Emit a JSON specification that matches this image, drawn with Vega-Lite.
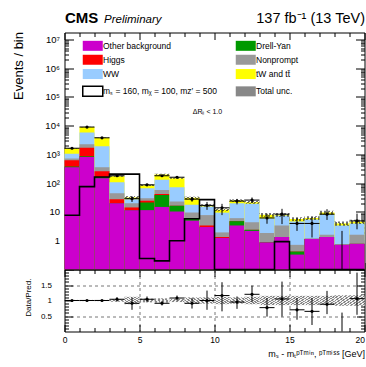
{
  "$schema": "https://vega.github.io/schema/vega-lite/v6.json",
  "autosize": {"type": "pad"},
  "padding": {"left": 11.5, "top": 9.5, "right": 0, "bottom": 8},
  "background": "white",
  "bounds": "flush",
  "spacing": 0,
  "config": {
    "font": "Liberation Sans",
    "view": {"stroke": "black", "strokeWidth": 1},
    "axis": {"domain": false, "grid": false, "tickColor": "black", "tickWidth": 1, "labelColor": "black", "titleColor": "black", "titleFontWeight": "normal", "labelFlush": false, "labelOverlap": false, "labelBound": false}
  },
  "datasets": {
    "bins": [
      {"x0": 0, "x1": 1, "xc": 0.5, "other": 360, "dy": 380, "higgs": 630, "np": 720, "ww": 1070, "top": 1650, "ulo": 1617, "uhi": 1683, "d": 1650, "dlo": 1610, "dhi": 1690, "r": 1.0, "rlo": 0.98, "rhi": 1.02, "rulo": 0.98, "ruhi": 1.02},
      {"x0": 1, "x1": 2, "xc": 1.5, "other": 820, "dy": 870, "higgs": 1700, "np": 2250, "ww": 5800, "top": 9000, "ulo": 8820, "uhi": 9180, "d": 9000, "dlo": 8905, "dhi": 9095, "r": 1.0, "rlo": 0.99, "rhi": 1.01, "rulo": 0.98, "ruhi": 1.02},
      {"x0": 2, "x1": 3, "xc": 2.5, "other": 150, "dy": 165, "higgs": 260, "np": 360, "ww": 1950, "top": 3800, "ulo": 3724, "uhi": 3876, "d": 3800, "dlo": 3738, "dhi": 3862, "r": 1.0, "rlo": 0.98, "rhi": 1.02, "rulo": 0.98, "ruhi": 1.02},
      {"x0": 3, "x1": 4, "xc": 3.5, "other": 20, "dy": 20, "higgs": 28, "np": 45, "ww": 108, "top": 175, "ulo": 168, "uhi": 182, "d": 182, "dlo": 170, "dhi": 194, "r": 1.04, "rlo": 0.97, "rhi": 1.11, "rulo": 0.96, "ruhi": 1.04},
      {"x0": 4, "x1": 5, "xc": 4.5, "other": 11.5, "dy": 11.5, "higgs": 14.4, "np": 20, "ww": 28, "top": 32, "ulo": 28.2, "uhi": 35.8, "d": 29, "dlo": 22.3, "dhi": 35, "r": 0.91, "rlo": 0.70, "rhi": 1.10, "rulo": 0.88, "ruhi": 1.12},
      {"x0": 5, "x1": 6, "xc": 5.5, "other": 11.6, "dy": 21.5, "higgs": 24.7, "np": 30, "ww": 67, "top": 85, "ulo": 80, "uhi": 90, "d": 88, "dlo": 80, "dhi": 96, "r": 1.04, "rlo": 0.95, "rhi": 1.13, "rulo": 0.94, "ruhi": 1.06},
      {"x0": 6, "x1": 7, "xc": 6.5, "other": 15, "dy": 39, "higgs": 42, "np": 58, "ww": 131, "top": 200, "ulo": 186, "uhi": 214, "d": 182, "dlo": 168, "dhi": 196, "r": 0.91, "rlo": 0.84, "rhi": 0.98, "rulo": 0.93, "ruhi": 1.07},
      {"x0": 7, "x1": 8, "xc": 7.5, "other": 10.4, "dy": 16.5, "higgs": 16.5, "np": 23, "ww": 72, "top": 150, "ulo": 142.5, "uhi": 157.5, "d": 162, "dlo": 150, "dhi": 174, "r": 1.08, "rlo": 1.0, "rhi": 1.16, "rulo": 0.95, "ruhi": 1.05},
      {"x0": 8, "x1": 9, "xc": 8.5, "other": 5.0, "dy": 6.1, "higgs": 6.1, "np": 9.6, "ww": 18, "top": 31, "ulo": 27.9, "uhi": 34.1, "d": 28, "dlo": 22.8, "dhi": 33.2, "r": 0.91, "rlo": 0.74, "rhi": 1.08, "rulo": 0.9, "ruhi": 1.1},
      {"x0": 9, "x1": 10, "xc": 9.5, "other": 3.0, "dy": 3.0, "higgs": 3.4, "np": 7.8, "ww": 15.5, "top": 17, "ulo": 15.3, "uhi": 18.7, "d": 17, "dlo": 11.9, "dhi": 22.4, "r": 1.0, "rlo": 0.70, "rhi": 1.32, "rulo": 0.9, "ruhi": 1.1},
      {"x0": 10, "x1": 11, "xc": 10.5, "other": 1.25, "dy": 1.25, "higgs": 1.35, "np": 1.95, "ww": 9.5, "top": 12, "ulo": 10.6, "uhi": 13.4, "d": 14, "dlo": 7.8, "dhi": 19.2, "r": 1.16, "rlo": 0.65, "rhi": 1.59, "rulo": 0.88, "ruhi": 1.12},
      {"x0": 11, "x1": 12, "xc": 11.5, "other": 3.4, "dy": 4.8, "higgs": 4.8, "np": 6.1, "ww": 20, "top": 25, "ulo": 22.5, "uhi": 27.5, "d": 24, "dlo": 18.4, "dhi": 28.5, "r": 0.95, "rlo": 0.73, "rhi": 1.13, "rulo": 0.9, "ruhi": 1.1},
      {"x0": 12, "x1": 13, "xc": 12.5, "other": 2.2, "dy": 2.4, "higgs": 2.4, "np": 4.4, "ww": 19.4, "top": 22, "ulo": 19.4, "uhi": 24.6, "d": 26, "dlo": 20.6, "dhi": 32, "r": 1.2, "rlo": 0.95, "rhi": 1.48, "rulo": 0.88, "ruhi": 1.12},
      {"x0": 13, "x1": 14, "xc": 13.5, "other": 0.87, "dy": 0.87, "higgs": 0.87, "np": 1.86, "ww": 6.0, "top": 8.0, "ulo": 6.8, "uhi": 9.2, "d": 6.2, "dlo": 3.9, "dhi": 8.7, "r": 0.77, "rlo": 0.48, "rhi": 1.08, "rulo": 0.85, "ruhi": 1.15},
      {"x0": 14, "x1": 15, "xc": 14.5, "other": 1.35, "dy": 1.35, "higgs": 1.35, "np": 3.4, "ww": 7.5, "top": 8.0, "ulo": 6.8, "uhi": 9.2, "d": 8.4, "dlo": 3.8, "dhi": 12.9, "r": 1.05, "rlo": 0.48, "rhi": 1.61, "rulo": 0.85, "ruhi": 1.15},
      {"x0": 15, "x1": 16, "xc": 15.5, "other": 0.33, "dy": 0.42, "higgs": 0.42, "np": 0.72, "ww": 4.7, "top": 5.7, "ulo": 4.85, "uhi": 6.55, "d": 4.0, "dlo": 2.2, "dhi": 6.2, "r": 0.70, "rlo": 0.38, "rhi": 1.08, "rulo": 0.85, "ruhi": 1.15},
      {"x0": 16, "x1": 17, "xc": 16.5, "other": 1.15, "dy": 1.15, "higgs": 1.15, "np": 1.22, "ww": 5.5, "top": 6.2, "ulo": 5.27, "uhi": 7.13, "d": 4.0, "dlo": 1.3, "dhi": 6.6, "r": 0.65, "rlo": 0.21, "rhi": 1.08, "rulo": 0.85, "ruhi": 1.15},
      {"x0": 17, "x1": 18, "xc": 17.5, "other": 1.35, "dy": 1.35, "higgs": 1.35, "np": 1.62, "ww": 8.2, "top": 9.6, "ulo": 8.16, "uhi": 11.04, "d": 8.4, "dlo": 5.3, "dhi": 12.5, "r": 0.88, "rlo": 0.56, "rhi": 1.31, "rulo": 0.85, "ruhi": 1.15},
      {"x0": 18, "x1": 19, "xc": 18.5, "other": 0.72, "dy": 0.72, "higgs": 0.72, "np": 0.75, "ww": 3.4, "top": 4.0, "ulo": 3.32, "uhi": 4.68, "d": null, "dlo": 0.01, "dhi": 2.2, "r": null, "rlo": 0, "rhi": 0.61, "rulo": 0.83, "ruhi": 1.17},
      {"x0": 19, "x1": 20, "xc": 19.5, "other": 0.78, "dy": 0.78, "higgs": 0.78, "np": 1.62, "ww": 4.0, "top": 4.6, "ulo": 3.82, "uhi": 5.38, "d": 4.9, "dlo": 2.5, "dhi": 8.8, "r": 1.06, "rlo": 0.54, "rhi": 1.9, "rulo": 0.83, "ruhi": 1.17}
    ],
    "sig": [
      {"x": 0, "s": 7.7}, {"x": 1, "s": 76}, {"x": 2, "s": 165}, {"x": 3, "s": 207}, {"x": 4, "s": 207},
      {"x": 5, "s": 0.24}, {"x": 6, "s": 0.2}, {"x": 7, "s": 1.0}, {"x": 8, "s": 5.8}, {"x": 9, "s": 27},
      {"x": 10, "s": 0.01}, {"x": 11, "s": 0.01}, {"x": 12, "s": 0.01}, {"x": 13, "s": 0.01}, {"x": 14, "s": 0.93},
      {"x": 15, "s": 0.01}, {"x": 16, "s": 0.01}, {"x": 17, "s": 0.01}, {"x": 18, "s": 0.01}, {"x": 19, "s": 0.01}, {"x": 20, "s": 0.01}
    ]
  },
  "vconcat": [
    {
      "width": 300,
      "height": 237,
      "resolve": {"axis": {"x": "independent", "y": "independent"}},
      "layer": [
        {
          "data": {"name": "bins"},
          "transform": [{"fold": ["top", "ww", "np", "higgs", "dy", "other"], "as": ["proc", "cum"]}],
          "mark": {"type": "bar"},
          "encoding": {
            "x": {"field": "x0", "type": "quantitative", "scale": {"domain": [0, 20], "nice": false, "zero": false},
              "axis": {"values": [0,1,2,3,4,5,6,7,8,9,10,11,12,13,14,15,16,17,18,19,20], "labels": false,
                "tickSize": {"condition": {"test": "datum.value % 5 == 0", "value": -7}, "value": -4},
                "title": "Preliminary", "titleX": 39, "titleY": -247.5, "titleAlign": "left", "titleBaseline": "alphabetic", "titleAngle": 0, "titleFontSize": 11.5, "titleFontStyle": "italic"}},
            "x2": {"field": "x1"},
            "y": {"field": "cum", "type": "quantitative", "scale": {"type": "log", "domain": [0.1, 17500000], "nice": false, "clamp": true},
              "axis": {"values": [0.1,0.2,0.3,0.4,0.5,0.6,0.7,0.8,0.9,1,2,3,4,5,6,7,8,9,10,20,30,40,50,60,70,80,90,100,200,300,400,500,600,700,800,900,1000,2000,3000,4000,5000,6000,7000,8000,9000,10000,20000,30000,40000,50000,60000,70000,80000,90000,100000,200000,300000,400000,500000,600000,700000,800000,900000,1000000,2000000,3000000,4000000,5000000,6000000,7000000,8000000,9000000,10000000],
                "labelExpr": "datum.value==1?'1':datum.value==10?'10':datum.value==100?'10²':datum.value==1000?'10³':datum.value==10000?'10⁴':datum.value==100000?'10⁵':datum.value==1000000?'10⁶':datum.value==10000000?'10⁷':''",
                "tickSize": {"condition": {"test": "indexof([0.1,1,10,100,1000,10000,100000,1000000,10000000], datum.value) >= 0", "value": -9}, "value": -4},
                "labelPadding": 14, "labelFontSize": 9.5,
                "title": "Events / bin", "titleFontSize": 13, "titleAngle": 270, "titleX": -46, "titleY": -1, "titleAlign": "right", "titleBaseline": "middle"}},
            "y2": {"datum": 0.1},
            "color": {"field": "proc", "type": "nominal",
              "scale": {"domain": ["other", "dy", "higgs", "np", "ww", "top", "sig", "unc"], "range": ["#cc00cc", "#009900", "#ff0000", "#999999", "#99ccff", "#ffff00", "#ffffff", "#888888"]},
              "legend": {"orient": "none", "legendX": 24, "legendY": 8.7, "columns": 2, "direction": "horizontal", "title": null, "padding": 0,
                "symbolType": "M-1,-0.5H1V0.5H-1Z", "symbolSize": 400, "symbolStrokeWidth": 0,
                "labelFontSize": 8.5, "labelOffset": 6, "labelLimit": 250, "rowPadding": 3.3, "columnPadding": 18,
                "labelExpr": "datum.label=='other'?'Other background':datum.label=='dy'?'Drell-Yan':datum.label=='higgs'?'Higgs':datum.label=='np'?'Nonprompt':datum.label=='ww'?'WW':datum.label=='top'?'tW and tt̄':datum.label=='sig'?'mₛ = 160, mᵪ = 100, mᴢ′ = 500':'Total unc.'",
                "encode": {"symbols": {"update": {
                  "fill": [
                    {"test": "datum.value === 'unc'", "value": {"gradient": "linear", "x1": 0, "y1": 0, "x2": 1, "y2": 1, "stops": [
                      {"offset": 0, "color": "#555555"}, {"offset": 0.0625, "color": "#555555"}, {"offset": 0.0625, "color": "#dddddd"}, {"offset": 0.125, "color": "#dddddd"},
                      {"offset": 0.125, "color": "#555555"}, {"offset": 0.1875, "color": "#555555"}, {"offset": 0.1875, "color": "#dddddd"}, {"offset": 0.25, "color": "#dddddd"},
                      {"offset": 0.25, "color": "#555555"}, {"offset": 0.3125, "color": "#555555"}, {"offset": 0.3125, "color": "#dddddd"}, {"offset": 0.375, "color": "#dddddd"},
                      {"offset": 0.375, "color": "#555555"}, {"offset": 0.4375, "color": "#555555"}, {"offset": 0.4375, "color": "#dddddd"}, {"offset": 0.5, "color": "#dddddd"},
                      {"offset": 0.5, "color": "#555555"}, {"offset": 0.5625, "color": "#555555"}, {"offset": 0.5625, "color": "#dddddd"}, {"offset": 0.625, "color": "#dddddd"},
                      {"offset": 0.625, "color": "#555555"}, {"offset": 0.6875, "color": "#555555"}, {"offset": 0.6875, "color": "#dddddd"}, {"offset": 0.75, "color": "#dddddd"},
                      {"offset": 0.75, "color": "#555555"}, {"offset": 0.8125, "color": "#555555"}, {"offset": 0.8125, "color": "#dddddd"}, {"offset": 0.875, "color": "#dddddd"},
                      {"offset": 0.875, "color": "#555555"}, {"offset": 0.9375, "color": "#555555"}, {"offset": 0.9375, "color": "#dddddd"}, {"offset": 1, "color": "#dddddd"}]}},
                    {"scale": "color", "field": "value"}
                  ],
                  "stroke": {"value": "black"},
                  "strokeWidth": {"signal": "datum.value === 'sig' ? 1.5 : 0"},
                  "opacity": {"value": 1}
                }}}}}
          }
        },
        {
          "data": {"name": "bins"},
          "mark": {"type": "rect", "fill": {"gradient": "linear", "x1": 0, "y1": 0, "x2": 1, "y2": 1, "stops": [
            {"offset": 0, "color": "#333333"}, {"offset": 0.0625, "color": "#333333"}, {"offset": 0.0625, "color": "transparent"}, {"offset": 0.125, "color": "transparent"},
            {"offset": 0.125, "color": "#333333"}, {"offset": 0.1875, "color": "#333333"}, {"offset": 0.1875, "color": "transparent"}, {"offset": 0.25, "color": "transparent"},
            {"offset": 0.25, "color": "#333333"}, {"offset": 0.3125, "color": "#333333"}, {"offset": 0.3125, "color": "transparent"}, {"offset": 0.375, "color": "transparent"},
            {"offset": 0.375, "color": "#333333"}, {"offset": 0.4375, "color": "#333333"}, {"offset": 0.4375, "color": "transparent"}, {"offset": 0.5, "color": "transparent"},
            {"offset": 0.5, "color": "#333333"}, {"offset": 0.5625, "color": "#333333"}, {"offset": 0.5625, "color": "transparent"}, {"offset": 0.625, "color": "transparent"},
            {"offset": 0.625, "color": "#333333"}, {"offset": 0.6875, "color": "#333333"}, {"offset": 0.6875, "color": "transparent"}, {"offset": 0.75, "color": "transparent"},
            {"offset": 0.75, "color": "#333333"}, {"offset": 0.8125, "color": "#333333"}, {"offset": 0.8125, "color": "transparent"}, {"offset": 0.875, "color": "transparent"},
            {"offset": 0.875, "color": "#333333"}, {"offset": 0.9375, "color": "#333333"}, {"offset": 0.9375, "color": "transparent"}, {"offset": 1, "color": "transparent"}]}, "opacity": 0.7},
          "encoding": {
            "x": {"field": "x0", "type": "quantitative", "axis": null},
            "x2": {"field": "x1"},
            "y": {"field": "ulo", "type": "quantitative", "axis": null},
            "y2": {"field": "uhi"}
          }
        },
        {
          "data": {"name": "sig"},
          "mark": {"type": "line", "interpolate": "step-after", "color": "black", "strokeWidth": 1.6},
          "encoding": {
            "x": {"field": "x", "type": "quantitative",
              "axis": {"orient": "top", "values": [0,1,2,3,4,5,6,7,8,9,10,11,12,13,14,15,16,17,18,19,20], "labels": false,
                "tickSize": {"condition": {"test": "datum.value % 5 == 0", "value": -7}, "value": -4},
                "title": "137 fb⁻¹ (13 TeV)", "titleX": 300, "titleY": -10.5, "titleAlign": "right", "titleBaseline": "alphabetic", "titleAngle": 0, "titleFontSize": 14.5}},
            "y": {"field": "s", "type": "quantitative",
              "axis": {"orient": "right", "values": [0.1,0.2,0.3,0.4,0.5,0.6,0.7,0.8,0.9,1,2,3,4,5,6,7,8,9,10,20,30,40,50,60,70,80,90,100,200,300,400,500,600,700,800,900,1000,2000,3000,4000,5000,6000,7000,8000,9000,10000,20000,30000,40000,50000,60000,70000,80000,90000,100000,200000,300000,400000,500000,600000,700000,800000,900000,1000000,2000000,3000000,4000000,5000000,6000000,7000000,8000000,9000000,10000000],
                "labels": false,
                "tickSize": {"condition": {"test": "indexof([0.1,1,10,100,1000,10000,100000,1000000,10000000], datum.value) >= 0", "value": -9}, "value": -4},
                "title": "CMS", "titleX": -300, "titleY": -10.5, "titleAlign": "left", "titleBaseline": "alphabetic", "titleAngle": 0, "titleFontSize": 15, "titleFontWeight": "bold"}}
          }
        },
        {
          "data": {"name": "bins"},
          "mark": {"type": "rule", "color": "black", "strokeWidth": 1},
          "encoding": {
            "x": {"field": "xc", "type": "quantitative", "axis": null},
            "y": {"field": "dlo", "type": "quantitative", "axis": null},
            "y2": {"field": "dhi"}
          }
        },
        {
          "data": {"name": "bins"},
          "mark": {"type": "rule", "color": "black", "strokeWidth": 1},
          "encoding": {
            "x": {"field": "x0", "type": "quantitative", "axis": null},
            "x2": {"field": "x1"},
            "y": {"field": "d", "type": "quantitative", "axis": null}
          }
        },
        {
          "data": {"name": "bins"},
          "mark": {"type": "point", "filled": true, "color": "black", "size": 10, "opacity": 1},
          "encoding": {
            "x": {"field": "xc", "type": "quantitative", "axis": null},
            "y": {"field": "d", "type": "quantitative", "axis": null}
          }
        },
        {
          "data": {"values": [{"label": "ΔRₗₗ < 1.0"}]},
          "mark": {"type": "text", "fontSize": 7, "color": "black", "align": "center", "baseline": "middle"},
          "encoding": {
            "x": {"datum": 9.53, "type": "quantitative", "axis": null},
            "y": {"datum": 30000, "type": "quantitative", "axis": null},
            "text": {"field": "label"}
          }
        }
      ]
    },
    {
      "width": 300,
      "height": 62,
      "resolve": {"axis": {"x": "independent", "y": "independent"}},
      "layer": [
        {
          "data": {"name": "bins"},
          "mark": {"type": "rect", "fill": {"gradient": "linear", "x1": 0, "y1": 0, "x2": 1, "y2": 1, "stops": [
            {"offset": 0, "color": "#888888"}, {"offset": 0.0625, "color": "#888888"}, {"offset": 0.0625, "color": "#f2f2f2"}, {"offset": 0.125, "color": "#f2f2f2"},
            {"offset": 0.125, "color": "#888888"}, {"offset": 0.1875, "color": "#888888"}, {"offset": 0.1875, "color": "#f2f2f2"}, {"offset": 0.25, "color": "#f2f2f2"},
            {"offset": 0.25, "color": "#888888"}, {"offset": 0.3125, "color": "#888888"}, {"offset": 0.3125, "color": "#f2f2f2"}, {"offset": 0.375, "color": "#f2f2f2"},
            {"offset": 0.375, "color": "#888888"}, {"offset": 0.4375, "color": "#888888"}, {"offset": 0.4375, "color": "#f2f2f2"}, {"offset": 0.5, "color": "#f2f2f2"},
            {"offset": 0.5, "color": "#888888"}, {"offset": 0.5625, "color": "#888888"}, {"offset": 0.5625, "color": "#f2f2f2"}, {"offset": 0.625, "color": "#f2f2f2"},
            {"offset": 0.625, "color": "#888888"}, {"offset": 0.6875, "color": "#888888"}, {"offset": 0.6875, "color": "#f2f2f2"}, {"offset": 0.75, "color": "#f2f2f2"},
            {"offset": 0.75, "color": "#888888"}, {"offset": 0.8125, "color": "#888888"}, {"offset": 0.8125, "color": "#f2f2f2"}, {"offset": 0.875, "color": "#f2f2f2"},
            {"offset": 0.875, "color": "#888888"}, {"offset": 0.9375, "color": "#888888"}, {"offset": 0.9375, "color": "#f2f2f2"}, {"offset": 1, "color": "#f2f2f2"}]}},
          "encoding": {
            "x": {"field": "x0", "type": "quantitative", "scale": {"domain": [0, 20], "nice": false, "zero": false},
              "axis": {"values": [0,1,2,3,4,5,6,7,8,9,10,11,12,13,14,15,16,17,18,19,20],
                "labelExpr": "datum.value % 5 == 0 ? datum.label : ''",
                "labelAlign": {"condition": {"test": "datum.value == 20", "value": "right"}, "value": "center"},
                "tickSize": {"condition": {"test": "datum.value % 5 == 0", "value": -7}, "value": -4},
                "labelPadding": 11, "labelFontSize": 8.5,
                "grid": true, "gridDash": [3, 3], "gridColor": "#777777",
                "gridOpacity": {"condition": {"test": "datum.value % 5 == 0 && datum.value > 0 && datum.value < 20", "value": 1}, "value": 0},
                "title": "mₛ - mₜᵖᵀᵐⁱⁿ, ᵖᵀᵐⁱˢˢ [GeV]", "titleX": 300, "titleY": 24.5, "titleAlign": "right", "titleBaseline": "alphabetic", "titleAngle": 0, "titleFontSize": 9}},
            "x2": {"field": "x1"},
            "y": {"field": "rulo", "type": "quantitative", "scale": {"domain": [0, 2], "nice": false, "zero": false},
              "axis": {"values": [0.1,0.2,0.3,0.4,0.5,0.6,0.7,0.8,0.9,1,1.1,1.2,1.3,1.4,1.5,1.6,1.7,1.8,1.9],
                "labelExpr": "datum.value == 0.5 ? '0.5' : datum.value == 1 ? '1' : datum.value == 1.5 ? '1.5' : ''",
                "tickSize": {"condition": {"test": "datum.value == 0.5 || datum.value == 1 || datum.value == 1.5", "value": -8}, "value": -4},
                "labelPadding": 21, "labelFontSize": 8,
                "grid": true, "gridDash": [3, 3], "gridColor": "#777777",
                "gridOpacity": {"condition": {"test": "datum.value == 0.5 || datum.value == 1.5", "value": 1}, "value": 0},
                "title": "Data/Pred.", "titleFontSize": 8, "titleAngle": 270, "titleX": -36, "titleY": 8.5, "titleAlign": "right", "titleBaseline": "middle"}},
            "y2": {"field": "ruhi"}
          }
        },
        {
          "data": {"name": "bins"},
          "mark": {"type": "rule", "color": "black", "strokeWidth": 1},
          "encoding": {
            "x": {"field": "xc", "type": "quantitative", "axis": null},
            "y": {"field": "rlo", "type": "quantitative", "axis": null},
            "y2": {"field": "rhi"}
          }
        },
        {
          "data": {"name": "bins"},
          "mark": {"type": "rule", "color": "black", "strokeWidth": 1},
          "encoding": {
            "x": {"field": "x0", "type": "quantitative",
              "axis": {"orient": "top", "values": [0,1,2,3,4,5,6,7,8,9,10,11,12,13,14,15,16,17,18,19,20], "labels": false,
                "tickSize": {"condition": {"test": "datum.value % 5 == 0", "value": -7}, "value": -4}, "title": null}},
            "x2": {"field": "x1"},
            "y": {"field": "r", "type": "quantitative",
              "axis": {"orient": "right", "values": [0.1,0.2,0.3,0.4,0.5,0.6,0.7,0.8,0.9,1,1.1,1.2,1.3,1.4,1.5,1.6,1.7,1.8,1.9], "labels": false,
                "tickSize": {"condition": {"test": "datum.value == 0.5 || datum.value == 1 || datum.value == 1.5", "value": -8}, "value": -4}, "title": null}}
          }
        },
        {
          "data": {"name": "bins"},
          "mark": {"type": "point", "filled": true, "color": "black", "size": 10, "opacity": 1},
          "encoding": {
            "x": {"field": "xc", "type": "quantitative", "axis": null},
            "y": {"field": "r", "type": "quantitative", "axis": null}
          }
        }
      ]
    }
  ]
}
